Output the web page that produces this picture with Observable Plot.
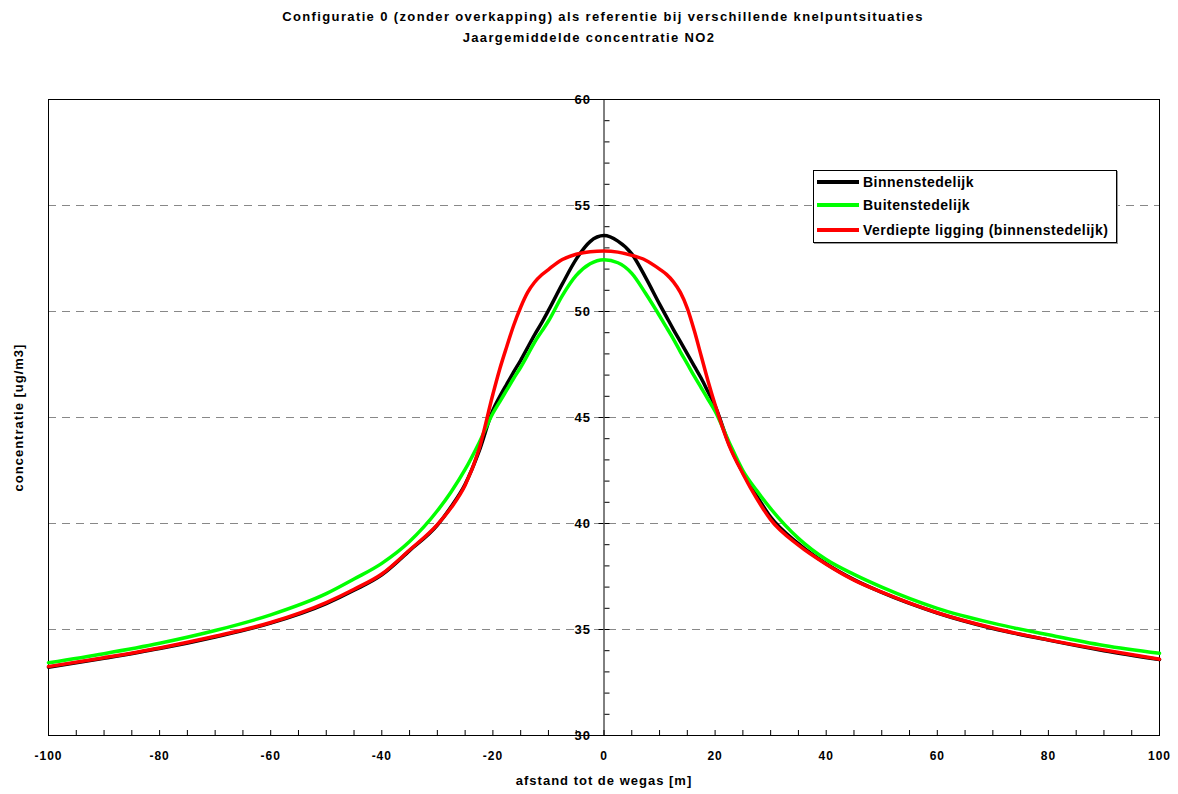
<!DOCTYPE html>
<html>
<head>
<meta charset="utf-8">
<script src="https://cdn.jsdelivr.net/npm/d3@7"></script>
<script src="https://cdn.jsdelivr.net/npm/@observablehq/plot@0.6"></script>
<style>
  html, body { margin: 0; padding: 0; background: #fff; }
  #wrap { position: relative; width: 1178px; height: 794px; font-family: "Liberation Sans", Arial, sans-serif; }
  #title { position: relative; height: 60px; font-weight: bold; font-size: 13px; letter-spacing: 1.37px; color: #000; }
  #title div { position: absolute; white-space: nowrap; transform: translateX(-50%); line-height: 21px; }
  #legend { position: absolute; left: 813px; top: 170px; width: 304px; height: 73px; background: #fff; border: 1px solid #000; box-shadow: 1px 1px 0 #999; box-sizing: border-box; font-weight: bold; font-size: 14px; letter-spacing: 0.5px; }
  .item { position: absolute; left: 3px; height: 20px; display: flex; align-items: center; }
  .swatch { width: 42px; height: 4px; margin-right: 4px; }
</style>
</head>
<body>
<div id="wrap">
  <div id="title">
    <div style="left:603px; top:6px;">Configuratie 0 (zonder overkapping) als referentie bij verschillende knelpuntsituaties</div>
    <div style="left:589px; top:27px;">Jaargemiddelde concentratie NO2</div>
  </div>
  <div id="chart"></div>
  <div id="legend"></div>
</div>
<script>
// distance to road axis [m]
const distance = [-100,-90,-80,-70,-60,-50,-45,-40,-35,-30,-27.5,-25,-22.5,-20,-18.75,-17.5,-16.25,-15,-13.75,-12.5,-11.25,-10,-7.5,-5,-2.5,0,2.5,5,7.5,10,11.25,12.5,13.75,15,16.25,17.5,18.75,20,22.5,25,27.5,30,35,40,45,50,60,70,80,90,100];
// Binnenstedelijk
const binnen = [33.22,33.64,34.10,34.65,35.30,36.22,36.85,37.58,38.72,39.92,40.80,41.85,43.40,45.35,46.00,46.58,47.15,47.70,48.30,48.90,49.45,50.05,51.30,52.47,53.30,53.58,53.32,52.72,51.60,50.35,49.75,49.15,48.58,48.00,47.42,46.85,46.20,45.55,43.75,42.40,41.30,40.30,39.05,38.10,37.35,36.75,35.78,35.05,34.50,34.00,33.58];
// Buitenstedelijk
const buiten = [33.43,33.86,34.35,34.95,35.69,36.69,37.38,38.12,39.15,40.60,41.50,42.55,43.80,45.20,45.75,46.30,46.85,47.37,47.95,48.55,49.05,49.55,50.75,51.70,52.25,52.44,52.30,51.80,50.85,49.80,49.25,48.70,48.10,47.53,46.95,46.40,45.85,45.30,43.85,42.50,41.55,40.70,39.30,38.30,37.60,37.00,36.00,35.30,34.75,34.25,33.88];
// Verdiepte ligging (binnenstedelijk)
const verdiept = [33.25,33.67,34.13,34.68,35.33,36.27,36.90,37.62,38.75,39.95,40.75,41.80,43.50,46.10,47.30,48.35,49.35,50.20,50.90,51.38,51.72,51.98,52.45,52.70,52.82,52.85,52.80,52.65,52.42,52.00,51.75,51.40,50.90,50.15,49.10,47.90,46.70,45.60,43.70,42.35,41.17,40.18,38.98,38.08,37.33,36.76,35.79,35.07,34.51,34.03,33.60];

const seriesNames = ["Binnenstedelijk", "Buitenstedelijk", "Verdiepte ligging (binnenstedelijk)"];
const seriesColors = ["#000000", "#00ff00", "#ff0000"];
const seriesValues = [binnen, buiten, verdiept];

const xMajorTicks = [-100,-80,-60,-40,-20,0,20,40,60,80,100];
const xMinorTicks = d3.range(-100, 101, 5);
const yMajorTicks = [30,35,40,45,50,55,60];
const yMinorTicks = d3.range(30, 61, 1);
const yGridLines = [35,40,45,50,55];

const rows = [];
seriesNames.forEach((name, i) => {
  distance.forEach((x, j) => rows.push({series: name, x, y: seriesValues[i][j]}));
});

const W = 1178, H = 734, mL = 48, mR = 19, mT = 39, mB = 59;
const centerShift = (W - mL - mR) / 2;

const chart = Plot.plot({
  width: W, height: H,
  marginLeft: mL, marginRight: mR, marginTop: mT, marginBottom: mB,
  style: {fontFamily: "'Liberation Sans', Arial, sans-serif", fontSize: "13px", fontWeight: "bold", background: "#fff", color: "#000", letterSpacing: "1px"},
  x: {domain: [-100, 100]},
  y: {domain: [30, 60]},
  color: {domain: seriesNames, range: seriesColors},
  marks: [
    Plot.ruleY(yGridLines, {stroke: "#888", strokeDasharray: "8,6", strokeWidth: 1}),
    Plot.frame({stroke: "#000", strokeWidth: 1}),
    Plot.ruleX([0], {stroke: "#000", strokeWidth: 1}),
    // x axis: inward ticks and labels
    Plot.axisX({ticks: xMinorTicks, tickSize: -5, tickFormat: () => "", label: null}),
    Plot.axisX({ticks: xMajorTicks, tickSize: 0, tickPadding: 16, fontSize: 12, label: null, tickFormat: d => String(d)}),
    // y axis at x = 0
    Plot.axisY({anchor: "left", ticks: yMajorTicks, tickSize: 5, tickPadding: 8, dx: centerShift, label: null, fontSize: 13, tickFormat: d => String(d)}),
    Plot.axisY({anchor: "right", ticks: yMinorTicks, tickSize: 5, dx: -centerShift, label: null, tickFormat: () => ""}),
    Plot.line(rows, {x: "x", y: "y", z: "series", stroke: "series", strokeWidth: 3.5, curve: "monotone-x"}),
    Plot.text(["afstand tot de wegas [m]"], {frameAnchor: "bottom", dy: 49, text: d => d, fontSize: 13, fontWeight: "bold"}),
    Plot.text(["concentratie [ug/m3]"], {frameAnchor: "left", dx: -30, rotate: -90, textAnchor: "middle", text: d => d, fontSize: 13, fontWeight: "bold"})
  ]
});
document.getElementById("chart").appendChild(chart);

const legend = document.getElementById("legend");
const rowTops = [1, 24, 49];
seriesNames.forEach((name, i) => {
  const item = document.createElement("div");
  item.className = "item";
  item.style.top = rowTops[i] + "px";
  const sw = document.createElement("div");
  sw.className = "swatch";
  sw.style.background = seriesColors[i];
  const label = document.createElement("span");
  label.textContent = name;
  item.appendChild(sw);
  item.appendChild(label);
  legend.appendChild(item);
});
</script>
</body>
</html>
